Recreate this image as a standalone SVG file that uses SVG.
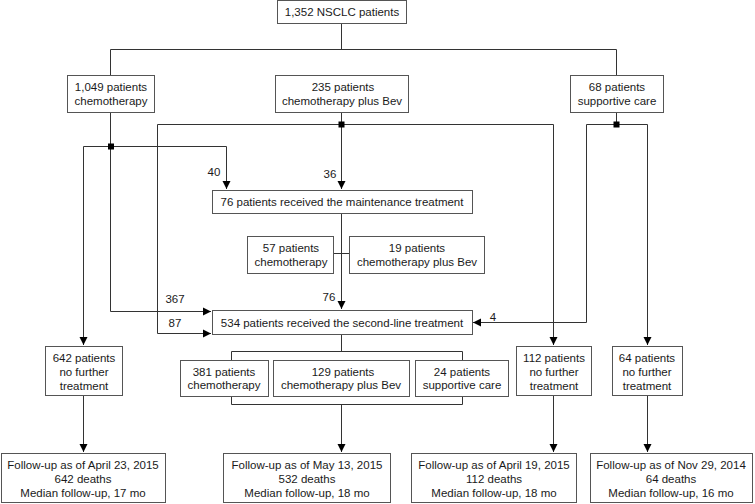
<svg xmlns="http://www.w3.org/2000/svg" width="755" height="504" viewBox="0 0 755 504">
<style>
.b{fill:#fff;stroke:#555;stroke-width:1}
.t{font-family:"Liberation Sans",Arial,sans-serif;font-size:11.5px;fill:#1a1a1a;text-anchor:middle}
.c{fill:none;stroke:#333;stroke-width:1}
.j{fill:#000}
</style>
<defs>
<marker id="ah" markerUnits="userSpaceOnUse" markerWidth="9" markerHeight="9" viewBox="0 0 9 9" refX="8" refY="4.5" orient="auto">
<path d="M0,0.5 L8,4.5 L0,8.5 Z" fill="#000"/>
</marker>
</defs>
<rect width="755" height="504" fill="#fff"/>
<g id="connectors">
<path class="c" d="M341.5,23 V49.5 M110.5,49.5 H616.5 M110.5,49.5 V75 M616.5,49.5 V75"/>
<path class="c" d="M110.5,112 V311.5 H211" marker-end="url(#ah)"/>
<path class="c" d="M83.5,146.5 H226.5 V189" marker-end="url(#ah)"/>
<path class="c" d="M83.5,146.5 V345" marker-end="url(#ah)"/>
<path class="c" d="M341.5,112 V189" marker-end="url(#ah)"/>
<path class="c" d="M157.5,124.5 H553.5"/>
<path class="c" d="M157.5,124.5 V333.5 H211" marker-end="url(#ah)"/>
<path class="c" d="M553.5,124.5 V345" marker-end="url(#ah)"/>
<path class="c" d="M616.5,112 V124.5 M586.5,124.5 H647.5"/>
<path class="c" d="M586.5,124.5 V322.5 H473" marker-end="url(#ah)"/>
<path class="c" d="M647.5,124.5 V345" marker-end="url(#ah)"/>
<path class="c" d="M341.5,213 V309" marker-end="url(#ah)"/>
<path class="c" d="M334,253.5 H349"/>
<path class="c" d="M341.5,334 V351.5 M231.5,351.5 H462.5 V404.5 H231.5 Z"/>
<path class="c" d="M341.5,404.5 V452" marker-end="url(#ah)"/>
<path class="c" d="M83.5,395 V452" marker-end="url(#ah)"/>
<path class="c" d="M553.5,395 V452" marker-end="url(#ah)"/>
<path class="c" d="M647.5,395 V452" marker-end="url(#ah)"/>
<rect class="j" x="108" y="143.5" width="6" height="6"/>
<rect class="j" x="338.5" y="121.5" width="6" height="6"/>
<rect class="j" x="613.5" y="121.5" width="6" height="6"/>
<text class="t" x="214" y="176">40</text>
<text class="t" x="330" y="178">36</text>
<text class="t" x="175" y="303">367</text>
<text class="t" x="175" y="327">87</text>
<text class="t" x="329" y="301">76</text>
<text class="t" x="493" y="321">4</text>
</g>
<g id="n_total"><rect class="b" x="277.5" y="0.5" width="129" height="23"/><text class="t" x="342" y="16">1,352 NSCLC patients</text></g>
<g id="n_chemo"><rect class="b" x="67.5" y="75.5" width="87" height="37"/><text class="t" x="111" y="91">1,049 patients</text><text class="t" x="111" y="105">chemotherapy</text></g>
<g id="n_bev"><rect class="b" x="275.5" y="75.5" width="133" height="37"/><text class="t" x="343" y="91">235 patients</text><text class="t" x="342" y="105">chemotherapy plus Bev</text></g>
<g id="n_supp"><rect class="b" x="570.5" y="75.5" width="93" height="37"/><text class="t" x="617" y="91">68 patients</text><text class="t" x="617" y="105">supportive care</text></g>
<g id="n_maint"><rect class="b" x="212.5" y="190.5" width="260" height="23"/><text class="t" x="342" y="206">76 patients received the maintenance treatment</text></g>
<g id="n_m57"><rect class="b" x="247.5" y="236.5" width="86" height="37"/><text class="t" x="291" y="252">57 patients</text><text class="t" x="291" y="266">chemotherapy</text></g>
<g id="n_m19"><rect class="b" x="349.5" y="236.5" width="135" height="37"/><text class="t" x="417" y="252">19 patients</text><text class="t" x="417" y="266">chemotherapy plus Bev</text></g>
<g id="n_second"><rect class="b" x="212.5" y="310.5" width="260" height="24"/><text class="t" x="342" y="327">534 patients received the second-line treatment</text></g>
<g id="n_s381"><rect class="b" x="180.5" y="360.5" width="88" height="36"/><text class="t" x="224" y="376">381 patients</text><text class="t" x="224" y="389">chemotherapy</text></g>
<g id="n_s129"><rect class="b" x="273.5" y="360.5" width="136" height="36"/><text class="t" x="343" y="376">129 patients</text><text class="t" x="341" y="389">chemotherapy plus Bev</text></g>
<g id="n_s24"><rect class="b" x="415.5" y="360.5" width="93" height="36"/><text class="t" x="462" y="376">24 patients</text><text class="t" x="462" y="389">supportive care</text></g>
<g id="n_nf642"><rect class="b" x="45.5" y="346.5" width="77" height="49"/><text class="t" x="84" y="362">642 patients</text><text class="t" x="84" y="376">no further</text><text class="t" x="84" y="390">treatment</text></g>
<g id="n_nf112"><rect class="b" x="516.5" y="346.5" width="75" height="49"/><text class="t" x="554" y="362">112 patients</text><text class="t" x="554" y="376">no further</text><text class="t" x="554" y="390">treatment</text></g>
<g id="n_nf64"><rect class="b" x="612.5" y="346.5" width="70" height="49"/><text class="t" x="647" y="362">64 patients</text><text class="t" x="647" y="376">no further</text><text class="t" x="647" y="390">treatment</text></g>
<g id="n_f1"><rect class="b" x="1.5" y="453.5" width="164" height="49"/><text class="t" x="83" y="469">Follow-up as of April 23, 2015</text><text class="t" x="83" y="483">642 deaths</text><text class="t" x="83" y="497">Median follow-up, 17 mo</text></g>
<g id="n_f2"><rect class="b" x="223.5" y="453.5" width="167" height="49"/><text class="t" x="307" y="469">Follow-up as of May 13, 2015</text><text class="t" x="307" y="483">532 deaths</text><text class="t" x="307" y="497">Median follow-up, 18 mo</text></g>
<g id="n_f3"><rect class="b" x="411.5" y="453.5" width="165" height="49"/><text class="t" x="494" y="469">Follow-up as of April 19, 2015</text><text class="t" x="494" y="483">112 deaths</text><text class="t" x="494" y="497">Median follow-up, 18 mo</text></g>
<g id="n_f4"><rect class="b" x="590.5" y="453.5" width="162" height="49"/><text class="t" x="671" y="469">Follow-up as of Nov 29, 2014</text><text class="t" x="671" y="483">64 deaths</text><text class="t" x="671" y="497">Median follow-up, 16 mo</text></g>
</svg>
